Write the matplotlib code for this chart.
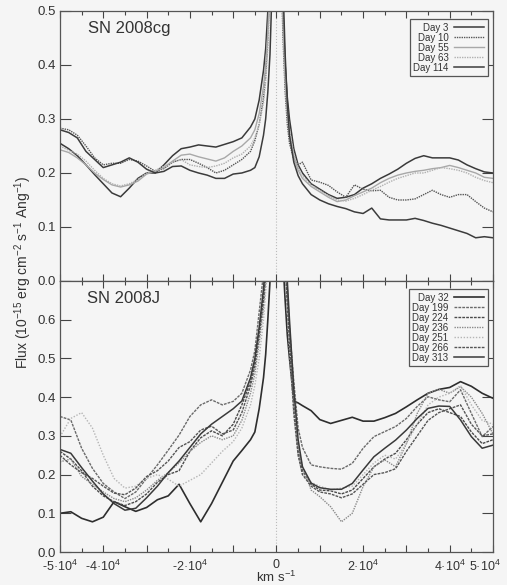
import matplotlib
matplotlib.use('Agg')
import matplotlib.pyplot as plt
from matplotlib.ticker import MultipleLocator, FixedLocator, FixedFormatter
from matplotlib.transforms import ScaledTranslation

plt.rcParams['font.family'] = ['Liberation Sans', 'DejaVu Sans']
plt.rcParams['mathtext.fontset'] = 'custom'
plt.rcParams['mathtext.rm'] = 'Liberation Sans'
plt.rcParams['mathtext.it'] = 'Liberation Sans'
plt.rcParams['mathtext.bf'] = 'Liberation Sans:bold'

# ---- SN 2008cg (top panel), velocity in km/s
vel_cg = [-50000, -48000, -46000, -44000, -42000, -40000, -38000, -36000, -34000, -32000,
          -30000, -28000, -26000, -24000, -22000, -20000, -18000, -16000, -14000, -12000,
          -10000, -8000, -6000,
          -5000, -4000, -3000, -2500, -2000, -1500, -1000, -500, 0, 500, 1000, 1500, 2000, 2500, 3000,
          4000, 5000, 6000,
          8000, 10000, 12000, 14000, 16000, 18000, 20000, 22000, 24000, 26000, 28000,
          30000, 32000, 34000, 36000, 38000, 40000, 42000, 44000, 46000, 48000, 50000]

cg_day3 = [0.255, 0.245, 0.232, 0.215, 0.197, 0.180, 0.163, 0.156, 0.172, 0.190,
           0.200, 0.200, 0.215, 0.232, 0.245, 0.248, 0.252, 0.250, 0.248, 0.253,
           0.258, 0.265, 0.285,
           0.300, 0.335, 0.390, 0.430, 0.500, 0.600, 0.750, 0.900, 1.000, 0.900, 0.700, 0.500, 0.400, 0.340, 0.300,
           0.245, 0.215, 0.200,
           0.180, 0.170, 0.160, 0.153, 0.155, 0.160, 0.172, 0.180, 0.190, 0.198, 0.207,
           0.218, 0.227, 0.232, 0.228, 0.228, 0.228, 0.224, 0.215, 0.208, 0.202, 0.200]
cg_day10 = [0.283, 0.280, 0.270, 0.250, 0.228, 0.215, 0.218, 0.218, 0.225, 0.222,
            0.213, 0.203, 0.208, 0.220, 0.225, 0.225, 0.218, 0.210, 0.200, 0.205,
            0.215, 0.225, 0.240,
            0.260, 0.290, 0.340, 0.380, 0.450, 0.550, 0.700, 0.900, 1.000, 0.900, 0.600, 0.450, 0.350, 0.290, 0.255,
            0.225, 0.215, 0.220,
            0.187, 0.183, 0.177, 0.165, 0.155, 0.178, 0.170, 0.167, 0.168, 0.155, 0.150,
            0.150, 0.152, 0.160, 0.168, 0.160, 0.155, 0.160, 0.160, 0.147, 0.135, 0.128]
cg_day55 = [0.243, 0.238, 0.228, 0.215, 0.200, 0.188, 0.178, 0.174, 0.178, 0.185,
            0.198, 0.203, 0.210, 0.222, 0.233, 0.235, 0.230, 0.226, 0.222, 0.228,
            0.240, 0.250, 0.265,
            0.280, 0.310, 0.360, 0.400, 0.460, 0.560, 0.700, 0.900, 1.000, 0.900, 0.650, 0.480, 0.370, 0.310, 0.270,
            0.230, 0.205, 0.190,
            0.175, 0.165, 0.155, 0.147, 0.150, 0.158, 0.165, 0.172, 0.182, 0.190, 0.196,
            0.200, 0.203, 0.205, 0.208, 0.210, 0.214, 0.210, 0.205, 0.200, 0.192, 0.190]
cg_day63 = [0.250, 0.242, 0.235, 0.222, 0.205, 0.190, 0.180, 0.176, 0.180, 0.188,
            0.200, 0.205, 0.213, 0.220, 0.225, 0.215, 0.212, 0.210, 0.213, 0.218,
            0.228, 0.235, 0.250,
            0.265, 0.290, 0.330, 0.370, 0.430, 0.520, 0.660, 0.880, 1.000, 0.920, 0.680, 0.500, 0.380, 0.320, 0.280,
            0.235, 0.210, 0.195,
            0.178, 0.168, 0.158, 0.150, 0.148, 0.153, 0.160, 0.168, 0.175, 0.183, 0.190,
            0.195, 0.200, 0.200, 0.205, 0.210, 0.208, 0.205, 0.200, 0.192, 0.186, 0.182]
cg_day114 = [0.280, 0.275, 0.265, 0.240, 0.225, 0.210, 0.215, 0.220, 0.228, 0.220,
             0.207, 0.200, 0.203, 0.212, 0.213, 0.205, 0.200, 0.196, 0.190, 0.190,
             0.198, 0.200, 0.205,
             0.210, 0.230, 0.270, 0.300, 0.350, 0.420, 0.550, 0.800, 1.000, 1.000, 0.800, 0.550, 0.420, 0.330, 0.270,
             0.220, 0.195, 0.180,
             0.160, 0.150, 0.143, 0.138, 0.134, 0.128, 0.125, 0.135, 0.115, 0.113, 0.113,
             0.113, 0.116, 0.112, 0.107, 0.103, 0.098, 0.093, 0.088, 0.080, 0.082, 0.080]

# ---- SN 2008J (bottom panel)
vel_j = [-50000, -47500, -45000, -42500, -40000, -37500, -35000, -32500, -30000, -27500,
         -25000, -22500, -20000, -17500, -15000, -12500, -10000,
         -8000, -6000, -5000, -4000, -3000, -2500, -2000, -1500, -1000, -500, 0,
         500, 1000, 1500, 2000, 2500, 3000, 4000, 5000, 6000, 8000,
         10000, 12500, 15000, 17500, 20000, 22500, 25000, 27500, 30000, 32500,
         35000, 37500, 40000, 42500, 45000, 47500, 50000]

j_day32 = [0.100, 0.104, 0.087, 0.078, 0.090, 0.130, 0.117, 0.105, 0.115, 0.135,
           0.145, 0.175, 0.125, 0.078, 0.125, 0.180, 0.235,
           0.262, 0.290, 0.310, 0.370, 0.450, 0.510, 0.600, 0.700, 0.850, 1.000, 1.100,
           1.000, 0.900, 0.750, 0.650, 0.560, 0.500, 0.390, 0.385, 0.378, 0.365,
           0.342, 0.332, 0.340, 0.348, 0.338, 0.338, 0.347, 0.358, 0.375, 0.393,
           0.410, 0.420, 0.425, 0.440, 0.428, 0.410, 0.397]
j_day199 = [0.350, 0.341, 0.268, 0.216, 0.177, 0.155, 0.138, 0.155, 0.190, 0.225,
            0.263, 0.302, 0.350, 0.380, 0.393, 0.380, 0.389,
            0.410, 0.470, 0.520, 0.620, 0.720, 0.800, 0.900, 1.000, 1.100, 1.200, 1.200,
            1.200, 1.100, 0.950, 0.800, 0.680, 0.580, 0.440, 0.320, 0.270, 0.225,
            0.220, 0.216, 0.214, 0.229, 0.268, 0.298, 0.311, 0.324, 0.345, 0.376,
            0.401, 0.393, 0.388, 0.419, 0.358, 0.298, 0.324]
j_day224 = [0.260, 0.240, 0.210, 0.170, 0.145, 0.130, 0.120, 0.130, 0.150, 0.180,
            0.200, 0.210, 0.260, 0.295, 0.313, 0.300, 0.330,
            0.380, 0.440, 0.490, 0.570, 0.660, 0.730, 0.820, 0.920, 1.020, 1.120, 1.200,
            1.100, 1.000, 0.880, 0.760, 0.660, 0.560, 0.380, 0.260, 0.210, 0.175,
            0.160, 0.158, 0.150, 0.160, 0.190, 0.220, 0.240, 0.255, 0.290, 0.330,
            0.360, 0.370, 0.360, 0.350, 0.310, 0.280, 0.290]
j_day236 = [0.233, 0.240, 0.195, 0.175, 0.155, 0.138, 0.130, 0.140, 0.160, 0.185,
            0.205, 0.230, 0.260, 0.283, 0.300, 0.290, 0.300,
            0.340, 0.410, 0.460, 0.540, 0.630, 0.700, 0.780, 0.880, 0.980, 1.080, 1.150,
            1.100, 1.000, 0.900, 0.780, 0.680, 0.580, 0.400, 0.270, 0.220, 0.160,
            0.143, 0.117, 0.078, 0.100, 0.169, 0.220, 0.238, 0.220, 0.280, 0.358,
            0.410, 0.420, 0.410, 0.427, 0.400, 0.358, 0.305]
j_day251 = [0.298, 0.345, 0.360, 0.320, 0.250, 0.190, 0.165, 0.170, 0.190, 0.200,
            0.188, 0.170, 0.185, 0.200, 0.230, 0.260, 0.285,
            0.320, 0.380, 0.430, 0.500, 0.600, 0.670, 0.750, 0.850, 0.950, 1.050, 1.100,
            1.050, 0.950, 0.840, 0.720, 0.620, 0.520, 0.350, 0.250, 0.200, 0.180,
            0.170, 0.160, 0.165, 0.170, 0.200, 0.230, 0.250, 0.240, 0.280, 0.330,
            0.380, 0.400, 0.410, 0.430, 0.380, 0.340, 0.330]
j_day266 = [0.250, 0.225, 0.205, 0.190, 0.170, 0.152, 0.148, 0.165, 0.195, 0.210,
            0.235, 0.270, 0.285, 0.315, 0.325, 0.305, 0.315,
            0.360, 0.430, 0.480, 0.560, 0.650, 0.720, 0.800, 0.900, 1.000, 1.100, 1.150,
            1.080, 0.980, 0.860, 0.740, 0.640, 0.540, 0.360, 0.250, 0.200, 0.170,
            0.155, 0.150, 0.140, 0.150, 0.175, 0.200, 0.205, 0.215, 0.260, 0.300,
            0.340, 0.360, 0.370, 0.380, 0.330, 0.300, 0.305]
j_day313 = [0.265, 0.255, 0.218, 0.183, 0.150, 0.125, 0.108, 0.113, 0.140, 0.170,
            0.205, 0.235, 0.270, 0.305, 0.330, 0.350, 0.370,
            0.390, 0.450, 0.500, 0.580, 0.680, 0.760, 0.860, 0.960, 1.060, 1.150, 1.200,
            1.150, 1.050, 0.920, 0.800, 0.700, 0.600, 0.420, 0.290, 0.220, 0.178,
            0.166, 0.162, 0.162, 0.177, 0.212, 0.246, 0.268, 0.289, 0.315, 0.345,
            0.371, 0.377, 0.376, 0.341, 0.298, 0.268, 0.276]

xtick_pos = [-50000, -40000, -30000, -20000, -10000, 0, 10000, 20000, 30000, 40000, 50000]
xtick_lab = ['-5·10$^4$', '-4·10$^4$', '', '-2·10$^4$', '', '0', '',
             '2·10$^4$', '', '4·10$^4$', '5·10$^4$']

bg = '#f5f5f5'
ink = '#444444'

fig = plt.figure(figsize=(5.07, 5.85), dpi=100, facecolor=bg)
ax1 = fig.add_axes([0.1183, 0.5197, 0.8541, 0.4615], facecolor=bg)
ax2 = fig.add_axes([0.1183, 0.0564, 0.8541, 0.4633], facecolor=bg)

# top panel
ax1.plot(vel_cg, cg_day3, color='#3a3a3a', lw=1.1, ls='-', label='Day 3')
ax1.plot(vel_cg, cg_day10, color='#555555', lw=1.0, ls=(0, (1, 0.7)), label='Day 10')
ax1.plot(vel_cg, cg_day55, color='#a8a8a8', lw=1.0, ls='-', label='Day 55')
ax1.plot(vel_cg, cg_day63, color='#b0b0b0', lw=1.0, ls=(0, (1, 0.8)), label='Day 63')
ax1.plot(vel_cg, cg_day114, color='#3c3c3c', lw=1.1, ls='-', label='Day 114')

# bottom panel
ax2.plot(vel_j, j_day32, color='#2e2e2e', lw=1.2, ls='-', label='Day 32')
ax2.plot(vel_j, j_day199, color='#6a6a6a', lw=1.0, ls=(0, (2, 0.8)), label='Day 199')
ax2.plot(vel_j, j_day224, color='#4a4a4a', lw=1.0, ls=(0, (2, 0.8)), label='Day 224')
ax2.plot(vel_j, j_day236, color='#8a8a8a', lw=1.0, ls=(0, (1, 0.8)), label='Day 236')
ax2.plot(vel_j, j_day251, color='#b5b5b5', lw=1.0, ls=(0, (1, 1.2)), label='Day 251')
ax2.plot(vel_j, j_day266, color='#555555', lw=1.0, ls=(0, (2, 0.8)), label='Day 266')
ax2.plot(vel_j, j_day313, color='#3a3a3a', lw=1.1, ls='-', label='Day 313')

for ax, ymax, yt in [(ax1, 0.5, [0, 0.1, 0.2, 0.3, 0.4, 0.5]),
                     (ax2, 0.7, [0, 0.1, 0.2, 0.3, 0.4, 0.5, 0.6])]:
    ax.axvline(0, color='#bbbbbb', ls=':', lw=0.8, zorder=0)
    ax.set_xlim(-50000, 50000)
    ax.set_ylim(0, ymax)
    ax.set_yticks(yt)
    ax.set_yticklabels(['%.1f' % v for v in yt])
    ax.xaxis.set_major_locator(FixedLocator(xtick_pos))
    ax.xaxis.set_major_formatter(FixedFormatter(xtick_lab))
    ax.xaxis.set_minor_locator(MultipleLocator(5000))
    ax.tick_params(axis='both', which='both', direction='in', top=True, right=True,
                   colors=ink, labelcolor='#333333', labelsize=9.5, width=0.8)
    ax.tick_params(axis='x', labelsize=9)
    ax.tick_params(axis='y', which='major', length=8, pad=3)
    ax.tick_params(axis='x', which='major', length=5, pad=5)
    ax.tick_params(axis='x', which='minor', length=3)
    for s in ax.spines.values():
        s.set_color('#555555')
        s.set_linewidth(0.9)

ax1.tick_params(axis='x', labelbottom=False)

# nudge the last x label so it stays inside the figure
last_tick = ax2.xaxis.get_major_ticks()[-1]
last_tick.label1.set_transform(last_tick.label1.get_transform()
                               + ScaledTranslation(-6 / 72, 0, fig.dpi_scale_trans))

ax1.text(0.065, 0.92, 'SN 2008cg', transform=ax1.transAxes, fontsize=12, color='#333333')
ax2.text(0.063, 0.92, 'SN 2008J', transform=ax2.transAxes, fontsize=12, color='#333333')

for ax in (ax1, ax2):
    leg = ax.legend(loc='upper right', bbox_to_anchor=(0.988, 0.97), borderaxespad=0,
                    markerfirst=False, fontsize=7, labelspacing=0.0, handlelength=3.1,
                    handletextpad=0.6, borderpad=0.35, fancybox=False, framealpha=1,
                    edgecolor='#555555', facecolor=bg)
    leg.get_frame().set_linewidth(0.9)
    for t in leg.get_texts():
        t.set_color('#333333')

fig.text(0.045, 0.535, r'Flux (10$^{-15}$ erg cm$^{-2}$ s$^{-1}$ Ang$^{-1}$)', rotation=90,
         ha='center', va='center', fontsize=10, color='#333333')
ax2.set_xlabel(r'km s$^{-1}$', fontsize=9.5, color='#333333', labelpad=-3)

fig.savefig('out.png', dpi=100, facecolor=bg)
